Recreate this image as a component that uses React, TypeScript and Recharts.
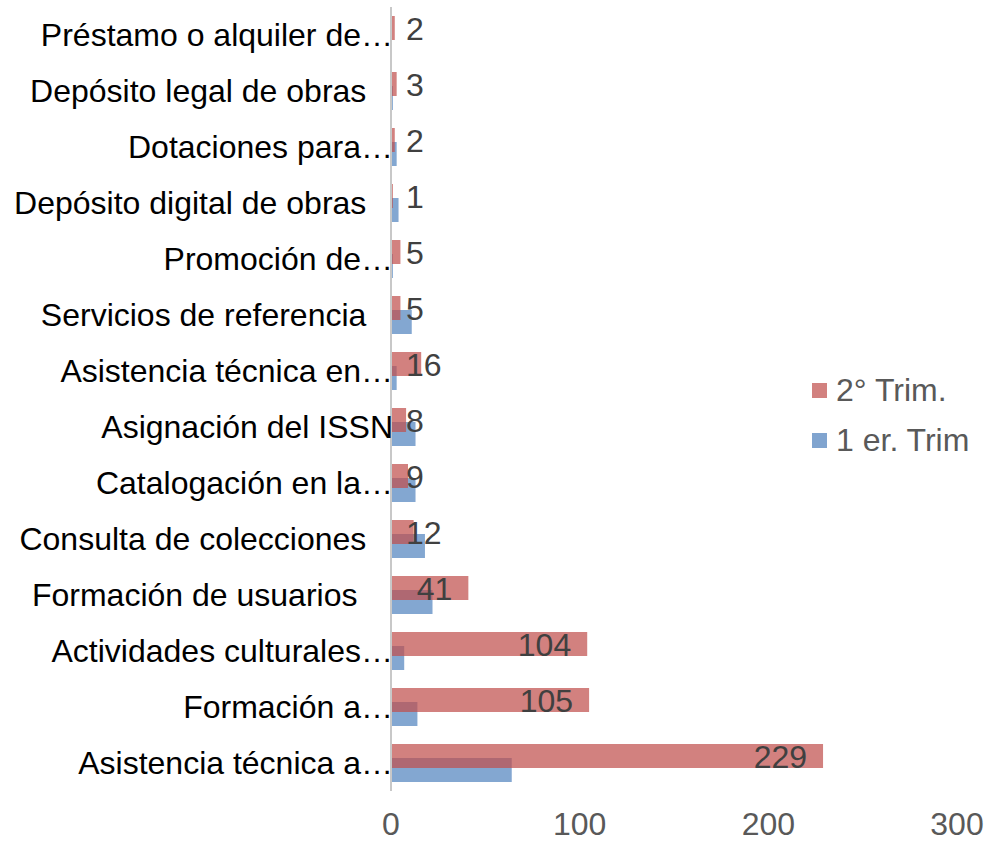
import React from 'react';
import { BarChart, Bar, XAxis, YAxis, Legend, LabelList, Rectangle } from 'recharts';

const categories = [
  'Préstamo o alquiler de…',
  'Depósito legal de obras\u00a0\u00a0\u00a0',
  'Dotaciones para…',
  'Depósito digital de obras\u00a0\u00a0\u00a0',
  'Promoción de…',
  'Servicios de referencia\u00a0\u00a0\u00a0',
  'Asistencia técnica en…',
  'Asignación del ISSN',
  'Catalogación en la…',
  'Consulta de colecciones\u00a0\u00a0\u00a0',
  'Formación de usuarios\u00a0\u00a0\u00a0\u00a0',
  'Actividades culturales…',
  'Formación a…',
  'Asistencia técnica a…',
];
const trim2 = [2, 3, 2, 1, 5, 5, 16, 8, 9, 12, 41, 104, 105, 229];
const trim1 = [0, 1, 3, 4, 1, 11, 3, 13, 13, 18, 22, 7, 14, 64];
const xTicks = [0, 100, 200, 300];
const seriesNames = ['2° Trim.', '1 er. Trim'];

const RED = '#C0504D';
const BLUE = '#4F81BD';
const SHIFT = 14;
const FS = 32;
const FONT = '"Liberation Sans", Arial, sans-serif';

const data = categories.map((name, i) => ({ name, trim2: trim2[i], trim1: trim1[i] }));

// bars overlap: red sits on top and is drawn last, blue sits lower
const BlueShape = (props: any) => <Rectangle {...props} y={props.y + SHIFT} />;
const RedShape = (props: any) => <Rectangle {...props} y={props.y - SHIFT} />;

const ValueLabel = (props: any) => {
  const vb = props.viewBox ?? props;
  const { x, y, width, height } = vb;
  const value = props.value;
  const textW = String(value).length * FS * 0.556;
  const right = Math.max(x + width - 16, x + 15 + textW);
  const cy = y - SHIFT + height / 2 + 1;
  return (
    <text x={right} y={cy} textAnchor="end" dominantBaseline="central" fontSize={FS} fill="#404040" fontFamily={FONT}>
      {value}
    </text>
  );
};

const LegendContent = () => (
  <div style={{ fontFamily: FONT, fontSize: FS, color: '#595959' }}>
    {[RED, BLUE].map((c, i) => (
      <div key={i} style={{ display: 'flex', alignItems: 'center', height: 50 }}>
        <div style={{ width: 15, height: 15, background: c, opacity: 0.72, marginRight: 9 }} />
        <span>{seriesNames[i]}</span>
      </div>
    ))}
  </div>
);

export default function App() {
  return (
    <div style={{ position: 'absolute', left: 0, top: 0, background: '#fff' }}>
      <BarChart
        width={986}
        height={843}
        data={data}
        layout="vertical"
        margin={{ top: 7, right: 29, left: 0, bottom: 0 }}
        barSize={24}
        barGap={-10}
        style={{ fontFamily: FONT }}
      >
        <XAxis
          type="number"
          domain={[0, 300]}
          ticks={xTicks}
          axisLine={false}
          tickLine={false}
          tickSize={0}
          tickMargin={21}
          height={52}
          tick={{ fontSize: FS, fill: '#595959' }}
        />
        <YAxis
          type="category"
          dataKey="name"
          width={391}
          interval={0}
          tickLine={false}
          tickSize={0}
          tickMargin={-2}
          axisLine={{ stroke: '#c8c8c8', strokeWidth: 2 }}
          tick={{ fontSize: FS, fill: '#000' }}
        />
        <Legend
          layout="vertical"
          align="center"
          verticalAlign="middle"
          wrapperStyle={{ left: 812, top: 365, width: 174 }}
          content={<LegendContent />}
        />
        <Bar dataKey="trim1" name={seriesNames[1]} fill={BLUE} fillOpacity={0.7} shape={BlueShape} isAnimationActive={false} />
        <Bar dataKey="trim2" name={seriesNames[0]} fill={RED} fillOpacity={0.72} shape={RedShape} isAnimationActive={false}>
          <LabelList dataKey="trim2" content={<ValueLabel />} />
        </Bar>
      </BarChart>
    </div>
  );
}
